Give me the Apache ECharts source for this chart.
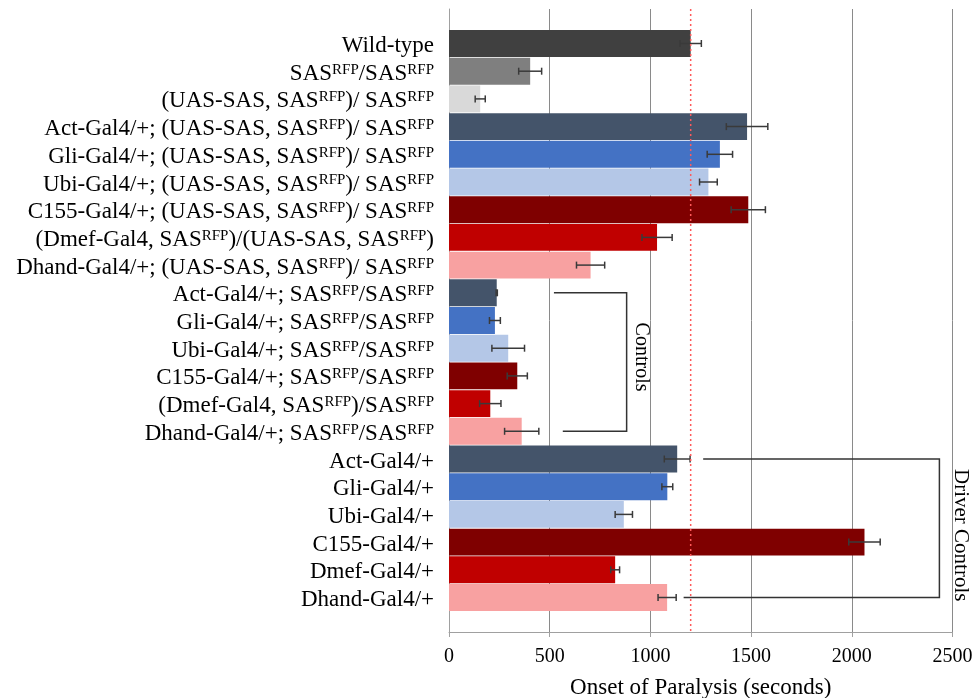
<!DOCTYPE html>
<html><head><meta charset="utf-8">
<script src="https://cdn.jsdelivr.net/npm/echarts@6/dist/echarts.min.js"></script>
<style>html,body{margin:0;padding:0;background:#fff}#c{width:977px;height:698px}</style>
</head><body><div id="c"></div>
<script>
// ---- data ----
const categories = [
  'Wild-type',
  'SAS^RFP/SAS^RFP',
  '(UAS-SAS, SAS^RFP)/ SAS^RFP',
  'Act-Gal4/+; (UAS-SAS, SAS^RFP)/ SAS^RFP',
  'Gli-Gal4/+; (UAS-SAS, SAS^RFP)/ SAS^RFP',
  'Ubi-Gal4/+; (UAS-SAS, SAS^RFP)/ SAS^RFP',
  'C155-Gal4/+; (UAS-SAS, SAS^RFP)/ SAS^RFP',
  '(Dmef-Gal4, SAS^RFP)/(UAS-SAS, SAS^RFP)',
  'Dhand-Gal4/+; (UAS-SAS, SAS^RFP)/ SAS^RFP',
  'Act-Gal4/+; SAS^RFP/SAS^RFP',
  'Gli-Gal4/+; SAS^RFP/SAS^RFP',
  'Ubi-Gal4/+; SAS^RFP/SAS^RFP',
  'C155-Gal4/+; SAS^RFP/SAS^RFP',
  '(Dmef-Gal4, SAS^RFP)/SAS^RFP',
  'Dhand-Gal4/+; SAS^RFP/SAS^RFP',
  'Act-Gal4/+',
  'Gli-Gal4/+',
  'Ubi-Gal4/+',
  'C155-Gal4/+',
  'Dmef-Gal4/+',
  'Dhand-Gal4/+'
];
const onsetSeconds = [1200, 403, 155, 1480, 1345, 1288, 1486, 1033, 703,
                      237, 228, 294, 339, 205, 361,
                      1133, 1084, 868, 2063, 825, 1083];
const errorSeconds = [53, 57, 25, 103, 63, 44, 85, 75, 70,
                      3, 27, 81, 50, 53, 85,
                      64, 27, 43, 78, 22, 45];
const barColors = ['#404040', '#7f7f7f', '#d9d9d9',
                   '#44546a', '#4472c4', '#b4c7e7', '#7f0000', '#c00000', '#f8a1a1',
                   '#44546a', '#4472c4', '#b4c7e7', '#7f0000', '#c00000', '#f8a1a1',
                   '#44546a', '#4472c4', '#b4c7e7', '#7f0000', '#c00000', '#f8a1a1'];
const xTickLabels = ['0', '500', '1000', '1500', '2000', '2500'];
const xMin = 0, xMax = 2500, xInterval = 500;
const thresholdSeconds = 1200;
// brackets: [firstIndex, lastIndex, topStartX, bottomStartX, spineX]
const bracketLabels = ['Controls', 'Driver Controls'];
const bracketData = [
  [9, 14, 521, 565, 882],
  [15, 20, 1262, 1165, 2435]
];

// ---- chart ----
const FONT = 'Liberation Serif, Times New Roman, serif';
const chart = echarts.init(document.getElementById('c'), null, {renderer: 'canvas'});

const errorData = onsetSeconds.map((v, i) => [i, v - errorSeconds[i], v + errorSeconds[i]]);

const option = {
  backgroundColor: '#fff',
  animation: false,
  grid: [
    {left: 449, right: 24.5, top: 29.65, height: 581.7, outerBoundsMode: 'none', containLabel: false},
    {left: 449, right: 24.5, top: 9, bottom: 66, outerBoundsMode: 'none', containLabel: false}
  ],
  xAxis: [
    {gridIndex: 0, type: 'value', min: xMin, max: xMax, interval: xInterval, show: false},
    {gridIndex: 1, type: 'value', min: xMin, max: xMax, interval: xInterval,
      axisLine: {show: true, lineStyle: {color: '#a0a0a0', width: 1}},
      axisTick: {show: true, length: 5, lineStyle: {color: '#a0a0a0', width: 1}},
      axisLabel: {fontFamily: FONT, fontSize: 20, color: '#000', margin: 15,
        formatter: (v) => xTickLabels[Math.round((v - xMin) / xInterval)] ?? String(v)},
      splitLine: {show: true, lineStyle: {color: '#8a8a8a', width: 1}},
      name: 'Onset of Paralysis (seconds)', nameLocation: 'middle', nameGap: 44,
      nameTextStyle: {fontFamily: FONT, fontSize: 23, color: '#000'}
    }
  ],
  yAxis: [
    {gridIndex: 0, type: 'category', inverse: true, data: categories,
      axisLine: {show: false}, axisTick: {show: false}, splitLine: {show: false},
      axisLabel: {interval: 0, margin: 15, fontFamily: FONT, fontSize: 23, color: '#000',
        padding: [5, 0, 0, 0],
        formatter: (v) => v.replace(/\^RFP/g, '{s|RFP}'),
        rich: {s: {fontFamily: FONT, fontSize: 15, color: '#000', verticalAlign: 'top', lineHeight: 15}}
      }
    },
    {gridIndex: 1, type: 'value', min: 0, max: 1,
      axisLine: {show: true, lineStyle: {color: '#a0a0a0', width: 1}},
      axisTick: {show: false}, axisLabel: {show: false}, splitLine: {show: false}
    }
  ],
  series: [
    {
      type: 'bar', xAxisIndex: 0, yAxisIndex: 0,
      barCategoryGap: '3%',
      data: onsetSeconds.map((v, i) => ({value: v, itemStyle: {color: barColors[i]}})),
      z: 2
    },
    {
      type: 'custom', xAxisIndex: 0, yAxisIndex: 0, z: 5, clip: false,
      encode: {y: 0, x: [1, 2]},
      data: errorData,
      renderItem: function (params, api) {
        const idx = api.value(0);
        const a = api.coord([api.value(1), idx]);
        const b = api.coord([api.value(2), idx]);
        const h = 3.5;
        const st = {stroke: '#3a3a3a', lineWidth: 1.5};
        return {type: 'group', children: [
          {type: 'line', shape: {x1: a[0], y1: a[1], x2: b[0], y2: b[1]}, style: st},
          {type: 'line', shape: {x1: a[0], y1: a[1] - h, x2: a[0], y2: a[1] + h}, style: st},
          {type: 'line', shape: {x1: b[0], y1: b[1] - h, x2: b[0], y2: b[1] + h}, style: st}
        ]};
      }
    },
    {
      type: 'custom', xAxisIndex: 0, yAxisIndex: 0, z: 6, clip: false,
      encode: {y: [0, 1], x: [2, 3, 4]},
      data: bracketData,
      renderItem: function (params, api) {
        const i0 = api.value(0), i1 = api.value(1);
        const p1 = api.coord([api.value(2), i0]);
        const p2 = api.coord([api.value(4), i0]);
        const p3 = api.coord([api.value(4), i1]);
        const p4 = api.coord([api.value(3), i1]);
        const label = bracketLabels[params.dataIndex];
        const fs = params.dataIndex === 0 ? 20 : 21;
        const off = params.dataIndex === 0 ? 15 : 21;
        return {type: 'group', children: [
          {type: 'polyline', shape: {points: [p1, p2, p3, p4]},
            style: {stroke: '#333', lineWidth: 1.5, fill: null}},
          {type: 'text', x: p2[0] + off, y: (p2[1] + p3[1]) / 2 + (params.dataIndex === 0 ? -5 : 7),
            rotation: -Math.PI / 2,
            style: {text: label, fontFamily: FONT, fontSize: fs, fill: '#000',
              align: 'center', verticalAlign: 'middle'}}
        ]};
      }
    },
    {
      type: 'custom', xAxisIndex: 1, yAxisIndex: 1, z: 7, clip: false,
      encode: {x: 0, y: 1},
      data: [[thresholdSeconds, 0]],
      renderItem: function (params, api) {
        const p = api.coord([api.value(0), api.value(1)]);
        const cs = params.coordSys;
        return {type: 'line', shape: {x1: p[0], y1: cs.y, x2: p[0], y2: cs.y + cs.height},
          style: {stroke: '#ff5a5a', lineWidth: 1.5, lineDash: [2, 3]}};
      }
    }
  ]
};
chart.setOption(option);
</script>
</body></html>
